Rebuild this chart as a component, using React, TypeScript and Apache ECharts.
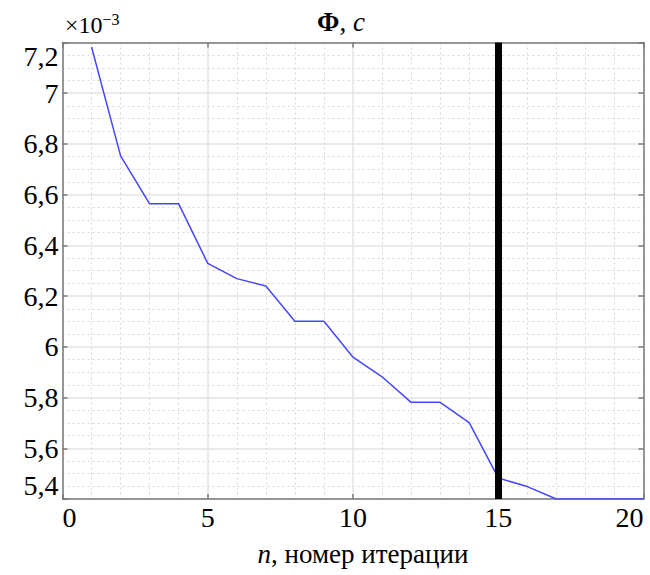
import React, { useEffect, useRef } from "react";
import * as echarts from "echarts";

const iterations = [1, 2, 3, 4, 5, 6, 7, 8, 9, 10, 11, 12, 13, 14, 15, 16, 17, 18, 19, 20];
const phiValues = [
  7.182, 6.753, 6.564, 6.564, 6.329, 6.269, 6.24, 6.101, 6.101, 5.959,
  5.882, 5.781, 5.781, 5.701, 5.483, 5.449, 5.4, 5.4, 5.4, 5.4,
];
const markerIteration = 15;
const yMin = 5.4;
const yMax = 7.2;
const xMin = 0;
const xMax = 20;

const FONT = "Liberation Serif";
const AXIS_COLOR = "#7a7a7a";
const LABEL_SIZE = 28;

function fmtY(v: number): string {
  const r = Math.round(v * 10) / 10;
  if (Math.abs(r - Math.round(r)) < 1e-9) return String(Math.round(r));
  return r.toFixed(1).replace(".", ",");
}

function buildOption() {
  const data = iterations.map((n, i) => [n, phiValues[i]]);
  return {
    animation: false,
    title: [
      {
        text: "{b|Φ}{r|, }{i|c}",
        left: 312,
        top: 3,
        textStyle: {
          fontFamily: FONT,
          rich: {
            b: { fontFamily: FONT, fontWeight: "bold", fontSize: 27, color: "#000" },
            r: { fontFamily: FONT, fontWeight: "normal", fontSize: 27, color: "#000" },
            i: { fontFamily: FONT, fontWeight: "normal", fontStyle: "italic", fontSize: 27, color: "#000" },
          },
        },
      },
      {
        text: "{a|×10}{sup|−3}",
        left: 60,
        top: 6,
        textStyle: {
          fontFamily: FONT,
          rich: {
            a: { fontFamily: FONT, fontWeight: "normal", fontSize: 24, color: "#000", lineHeight: 28 },
            sup: { fontFamily: FONT, fontWeight: "normal", fontSize: 16, color: "#000", verticalAlign: "top", lineHeight: 12 },
          },
        },
      },
    ],
    grid: { left: 62.5, right: 6.5, top: 42.5, bottom: 76 },
    xAxis: [
      {
        type: "value",
        min: xMin,
        max: xMax,
        interval: 5,
        axisLine: { show: true, onZero: false, lineStyle: { color: AXIS_COLOR, width: 1.5 } },
        axisTick: { show: true, inside: true, length: 5, lineStyle: { color: AXIS_COLOR, width: 1.5 } },
        axisLabel: {
          fontFamily: FONT,
          fontSize: LABEL_SIZE,
          color: "#000",
          margin: 4,
          alignMinLabel: "left",
          alignMaxLabel: "right",
        },
        splitLine: { show: true, lineStyle: { color: "#e3e3e3", width: 1.5 } },
        minorTick: { show: false, splitNumber: 5 },
        minorSplitLine: { show: true, lineStyle: { color: "#d6d6d6", width: 1, type: [2, 3] } },
        name: "{i|n}{a|, номер итерации}",
        nameLocation: "middle",
        nameGap: 41,
        nameTextStyle: {
          fontFamily: FONT,
          fontSize: 27,
          color: "#000",
          padding: [0, 0, 0, 20],
          rich: {
            i: { fontFamily: FONT, fontStyle: "italic", fontSize: 27, color: "#000" },
            a: { fontFamily: FONT, fontSize: 27, color: "#000" },
          },
        },
      },
      {
        type: "value",
        min: xMin,
        max: xMax,
        interval: 5,
        position: "top",
        axisLine: { show: true, onZero: false, lineStyle: { color: AXIS_COLOR, width: 1.5 } },
        axisTick: { show: true, inside: true, length: 5, lineStyle: { color: AXIS_COLOR, width: 1.5 } },
        axisLabel: { show: false },
        splitLine: { show: false },
      },
    ],
    yAxis: [
      {
        type: "value",
        min: yMin,
        max: yMax,
        interval: 0.2,
        axisLine: { show: true, onZero: false, lineStyle: { color: AXIS_COLOR, width: 1.5 } },
        axisTick: { show: true, inside: true, length: 5, lineStyle: { color: AXIS_COLOR, width: 1.5 } },
        axisLabel: {
          fontFamily: FONT,
          fontSize: LABEL_SIZE,
          color: "#000",
          margin: 4,
          formatter: fmtY,
          verticalAlignMinLabel: "bottom",
          verticalAlignMaxLabel: "top",
        },
        splitLine: { show: true, lineStyle: { color: "#e3e3e3", width: 1.5 } },
        minorTick: { show: false, splitNumber: 4 },
        minorSplitLine: { show: true, lineStyle: { color: "#d6d6d6", width: 1, type: [2, 3] } },
      },
      {
        type: "value",
        min: yMin,
        max: yMax,
        interval: 0.2,
        position: "right",
        axisLine: { show: true, onZero: false, lineStyle: { color: AXIS_COLOR, width: 1.5 } },
        axisTick: { show: true, inside: true, length: 5, lineStyle: { color: AXIS_COLOR, width: 1.5 } },
        axisLabel: { show: false },
        splitLine: { show: false },
      },
    ],
    series: [
      {
        type: "line",
        xAxisIndex: 0,
        yAxisIndex: 0,
        data,
        symbol: "none",
        lineStyle: { color: "#4646ff", width: 1.5 },
        markLine: {
          silent: true,
          symbol: ["none", "none"],
          label: { show: false },
          lineStyle: { color: "#000", width: 7, type: "solid" },
          data: [{ xAxis: markerIteration }],
        },
      },
    ],
  };
}

function forceSerif(root: HTMLElement | null) {
  if (!root) return;
  const texts = root.querySelectorAll("text, tspan");
  texts.forEach((t) => {
    const el = t as SVGElement;
    el.style.fontFamily = '"Liberation Serif", "Times New Roman", serif';
  });
}

export default function App() {
  const ref = useRef<HTMLDivElement>(null);
  useEffect(() => {
    if (!ref.current) return;
    const root = ref.current;
    const chart = echarts.init(root, undefined, { renderer: "svg" });
    const fix = () => forceSerif(root);
    chart.on("rendered", fix);
    chart.on("finished", fix);
    chart.setOption(buildOption() as any);
    fix();
    const t1 = window.setTimeout(fix, 0);
    const raf = window.requestAnimationFrame(fix);
    return () => {
      window.clearTimeout(t1);
      window.cancelAnimationFrame(raf);
      chart.dispose();
    };
  }, []);
  return (
    <div style={{ position: "fixed", left: 0, top: 0, width: 650, height: 575, background: "#fff" }}>
      <div ref={ref} style={{ position: "absolute", left: 0, top: 0, width: 650, height: 575 }} />
    </div>
  );
}
